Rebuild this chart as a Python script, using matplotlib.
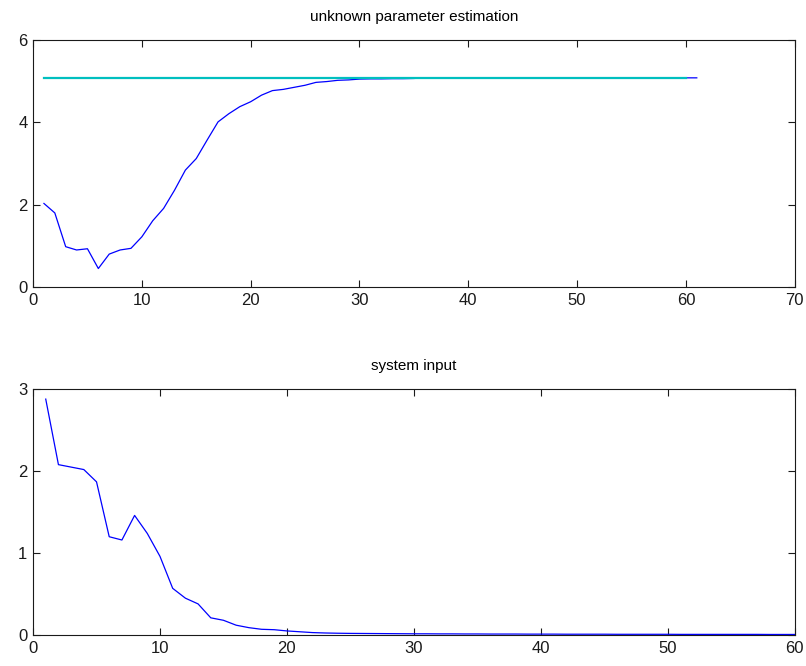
import numpy as np
import matplotlib
matplotlib.use("Agg")
import matplotlib.pyplot as plt

plt.rcParams['font.family'] = ['Liberation Sans', 'DejaVu Sans']

# estimacion del parametro desconocido (1..61)
k_est = list(range(1, 62))
theta_est = [2.03, 1.80, 0.98, 0.90, 0.93, 0.45, 0.80, 0.90, 0.94, 1.22,
             1.61, 1.91, 2.35, 2.84, 3.12, 3.57, 4.01, 4.21, 4.38, 4.50,
             4.66, 4.77, 4.80, 4.85, 4.90, 4.97, 4.99, 5.02, 5.03, 5.05,
             5.055, 5.055, 5.06, 5.06, 5.065,
             5.08, 5.08, 5.08, 5.08, 5.08, 5.08, 5.08, 5.08, 5.08, 5.08,
             5.08, 5.08, 5.08, 5.08, 5.08, 5.08, 5.08, 5.08, 5.08, 5.08,
             5.08, 5.08, 5.08, 5.08, 5.08, 5.08]

# valor real del parametro (1..60)
k_real = [1, 60]
theta_real = [5.08, 5.08]

# entrada del sistema
k_u = list(range(1, 62))
u = [2.88, 2.08, 2.05, 2.02, 1.87, 1.20, 1.16, 1.46, 1.24, 0.96,
     0.57, 0.45, 0.38, 0.21, 0.18, 0.12, 0.09, 0.07, 0.065, 0.05,
     0.04, 0.03, 0.025, 0.022, 0.02, 0.019, 0.018, 0.017, 0.016, 0.015,
     0.015, 0.014, 0.014, 0.013, 0.013, 0.012, 0.012, 0.012, 0.011, 0.011,
     0.011, 0.010, 0.010, 0.010, 0.010, 0.009, 0.009, 0.009, 0.009, 0.009,
     0.008, 0.008, 0.008, 0.008, 0.008, 0.008, 0.008, 0.007, 0.007, 0.007,
     0.007]

fig = plt.figure(figsize=(8.06, 6.66), dpi=100)
ax1 = fig.add_axes([0.041, 0.569, 0.945, 0.371])
ax2 = fig.add_axes([0.041, 0.0465, 0.945, 0.369])

ax1.plot(k_est, theta_est, color='#0000ff', lw=0.9)
ax1.plot(k_real, theta_real, color='#00bfbf', lw=1.6)
ax1.set_xlim(0, 70)
ax1.set_ylim(0, 6)
ax1.set_xticks(range(0, 71, 10))
ax1.set_yticks(range(0, 7, 2))
ax1.set_title("unknown parameter estimation", fontsize=11, pad=14)

ax2.plot(k_u, u, color='#0000ff', lw=0.9)
ax2.set_xlim(0, 60)
ax2.set_ylim(0, 3)
ax2.set_xticks(range(0, 61, 10))
ax2.set_yticks(range(0, 4))
ax2.set_title("system input", fontsize=11, pad=14)

for ax in (ax1, ax2):
    ax.tick_params(direction='in', top=True, right=True, length=5,
                   width=0.8, labelsize=12, colors='#1a1a1a', pad=4)
    for s in ax.spines.values():
        s.set_color('#1a1a1a')
        s.set_linewidth(0.8)

fig.savefig("out.png", dpi=100)
